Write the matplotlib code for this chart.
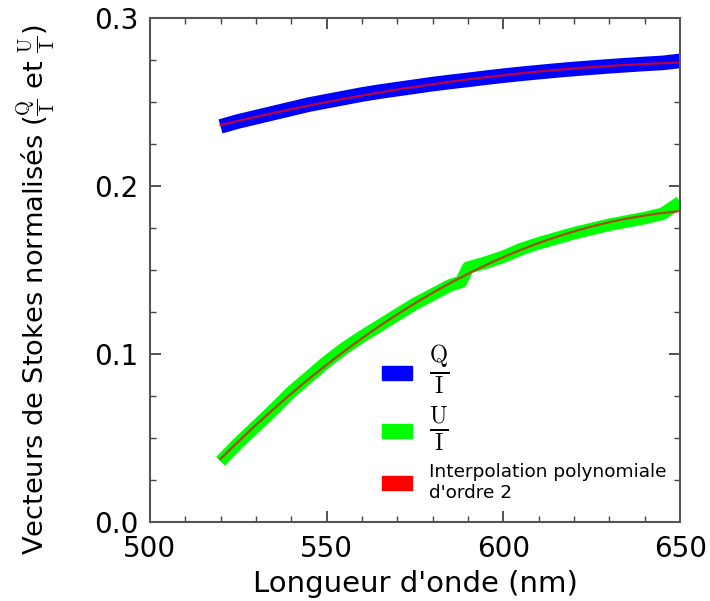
import numpy as np
import matplotlib.pyplot as plt
from matplotlib.patches import Patch
from matplotlib.ticker import MultipleLocator

plt.rcParams['mathtext.fontset'] = 'cm'

#  wavelength (nm) and normalised Stokes values
wavelength_q = [520, 525, 530, 535, 540, 545, 550, 555, 560, 565, 570, 575, 580, 585,
                590, 595, 600, 605, 610, 615, 620, 625, 630, 635, 640, 645, 650]
q_over_i = [0.2355, 0.2385, 0.2410, 0.2435, 0.2460, 0.2485, 0.2505, 0.2525, 0.2545,
            0.2562, 0.2577, 0.2592, 0.2607, 0.2620, 0.2632, 0.2645, 0.2657, 0.2668,
            0.2678, 0.2688, 0.2697, 0.2705, 0.2713, 0.2720, 0.2727, 0.2733, 0.2745]

wavelength_u = [520, 525, 530, 535, 540, 545, 550, 555, 560, 565, 570, 575, 580, 585,
                588, 590, 595, 600, 605, 610, 615, 620, 625, 630, 635, 640, 645, 650]
u_over_i = [0.0362, 0.0470, 0.0570, 0.0670, 0.0775, 0.0865, 0.0955, 0.1035, 0.1105,
            0.1170, 0.1235, 0.1300, 0.1355, 0.1410, 0.1430, 0.1515, 0.1545, 0.1580,
            0.1625, 0.1660, 0.1690, 0.1720, 0.1745, 0.1770, 0.1790, 0.1810, 0.1835,
            0.1905]

wl_q = np.array(wavelength_q)
wl_u = np.array(wavelength_u)

#  2nd order polynomial fits
pq = np.poly1d(np.polyfit(wl_q, q_over_i, 2))
pu = np.poly1d(np.polyfit(wl_u, u_over_i, 2))
x_fit = np.linspace(520, 650, 200)

fig = plt.figure(figsize=(7.1, 6.01), dpi=100)
ax = fig.add_axes([0.211, 0.131, 0.747, 0.839])

ax.plot(wl_q, q_over_i, color='#0000ff', linewidth=10.5, solid_capstyle='butt')
ax.plot(wl_u, u_over_i, color='#00ff00', linewidth=9, solid_capstyle='butt')
ax.plot(x_fit, pq(x_fit), color='#ff0000', linewidth=1.6, alpha=0.75)
ax.plot(x_fit, pu(x_fit), color='#dd1111', linewidth=1.6, alpha=0.75)

ax.set_xlim(500, 650)
ax.set_ylim(0, 0.3)
ax.xaxis.set_major_locator(MultipleLocator(50))
ax.xaxis.set_minor_locator(MultipleLocator(10))
ax.yaxis.set_major_locator(MultipleLocator(0.1))
ax.yaxis.set_minor_locator(MultipleLocator(0.025))
ax.tick_params(which='both', direction='in', top=True, right=True, labelsize=20,
               color='#444444')
ax.tick_params(which='major', length=8, width=1.3)
ax.tick_params(which='minor', length=4, width=1.0)
ax.tick_params(axis='x', pad=9)
ax.tick_params(axis='y', pad=8)
for s in ax.spines.values():
    s.set_color('#555555')
    s.set_linewidth(1.5)

ax.set_xlabel("Longueur d'onde (nm)", fontsize=21, labelpad=5)
ax.set_ylabel(r"Vecteurs de Stokes normalisés ($\frac{\mathrm{Q}}{\mathrm{I}}$ et $\frac{\mathrm{U}}{\mathrm{I}}$)",
              fontsize=19.6)
ax.yaxis.set_label_coords(-0.173, 0.462)

handles = [Patch(color='#0000ff'), Patch(color='#00ff00'), Patch(color='#ff0000')]
labels = [r"$\frac{\mathrm{Q}}{\mathrm{I}}$", r"$\frac{\mathrm{U}}{\mathrm{I}}$",
          "Interpolation polynomiale\nd'ordre 2"]
leg = ax.legend(handles, labels, loc='lower left', bbox_to_anchor=(0.437, 0.04),
                frameon=False, fontsize=13.3, handlelength=1.62, handleheight=0.8,
                labelspacing=0.5, handletextpad=0.92, borderpad=0, borderaxespad=0)
for t in leg.get_texts()[:2]:
    t.set_fontsize(24)

fig.savefig("out.png", dpi=100)
